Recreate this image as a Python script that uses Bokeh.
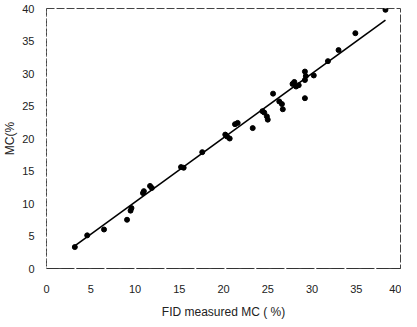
from bokeh.plotting import figure
from bokeh.models import FixedTicker, Range1d
from bokeh.embed import file_html
from bokeh.resources import INLINE

# measured data (FID measured MC vs predicted MC)
fid_mc = [3.2, 4.6, 6.5, 9.1, 9.5, 9.6, 10.9, 11.0, 11.7, 11.9, 15.2, 15.5, 17.6,
          20.2, 20.4, 20.7, 21.3, 21.6, 23.3, 24.4, 24.6, 24.9, 25.0, 25.6, 26.3,
          26.6, 26.7, 27.8, 28.0, 28.2, 28.5, 29.2, 29.3, 29.2, 29.2, 30.2, 31.8,
          33.0, 34.9, 38.3]
pred_mc = [3.3, 5.1, 6.0, 7.5, 8.9, 9.3, 11.6, 11.9, 12.7, 12.4, 15.6, 15.5, 17.9,
           20.6, 20.3, 20.0, 22.2, 22.4, 21.6, 24.2, 24.0, 23.4, 22.9, 26.9, 25.7,
           25.3, 24.5, 28.4, 28.7, 28.0, 28.2, 30.3, 29.6, 29.0, 26.2, 29.7, 31.9,
           33.6, 36.2, 39.8]

# fitted line end points
fit_x = [3.0, 38.3]
fit_y = [3.3, 38.2]

ticks = [0, 5, 10, 15, 20, 25, 30, 35, 40]

p = figure(width=401, height=321, output_backend="svg", toolbar_location=None,
           x_range=Range1d(0, 40), y_range=Range1d(0, 40),
           min_border_left=34, min_border_right=1, min_border_top=8, min_border_bottom=48)

p.line(fit_x, fit_y, line_color="black", line_width=1.6)
p.scatter(fid_mc, pred_mc, size=5, color="black")

p.grid.visible = False
p.outline_line_color = "#444444"
p.outline_line_width = 1
p.outline_line_dash = "8 2"

for ax in (p.xaxis[0], p.yaxis[0]):
    ax.ticker = FixedTicker(ticks=ticks)
    ax.major_tick_line_color = None
    ax.minor_tick_line_color = None
    ax.major_label_text_font = "Liberation Sans"
    ax.major_label_text_font_size = "11px"
    ax.major_label_text_color = "#222222"
    ax.axis_label_text_font = "Liberation Sans"
    ax.axis_label_text_font_size = "12px"
    ax.axis_label_text_font_style = "normal"
    ax.axis_label_text_color = "#222222"

p.xaxis.axis_label = "FID measured MC ( %)"
p.xaxis.axis_line_dash = "12 3"
p.xaxis.axis_line_color = "#333333"
p.xaxis.major_label_standoff = 10
p.xaxis.axis_label_standoff = 9

p.yaxis.axis_label = "MC(%"
p.yaxis.axis_line_dash = "1 3"
p.yaxis.axis_line_color = "#888888"
p.yaxis.major_label_standoff = 6
p.yaxis.axis_label_standoff = 2

open("out.html", "w").write(file_html(p, INLINE))
